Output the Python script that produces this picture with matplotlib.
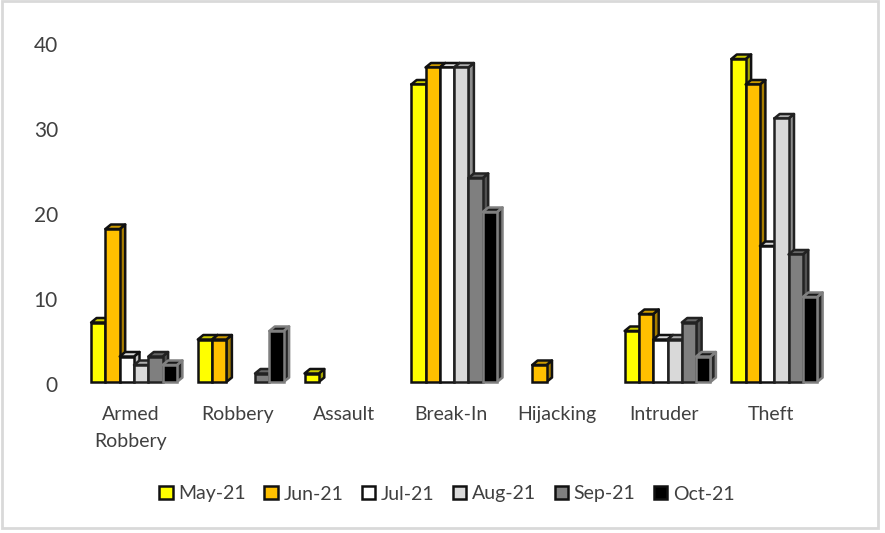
import matplotlib.pyplot as plt
from matplotlib.patches import Polygon, Rectangle

plt.rcParams['font.family'] = ['Lato', 'DejaVu Sans']

categories = ['Armed\nRobbery', 'Robbery', 'Assault', 'Break-In', 'Hijacking', 'Intruder', 'Theft']
months = ['May-21', 'Jun-21', 'Jul-21', 'Aug-21', 'Sep-21', 'Oct-21']

may_21 = [7, 5, 1, 35, 0, 6, 38]
jun_21 = [18, 5, 0, 37, 2, 8, 35]
jul_21 = [3, 0, 0, 37, 0, 5, 16]
aug_21 = [2, 0, 0, 37, 0, 5, 31]
sep_21 = [3, 1, 0, 24, 0, 7, 15]
oct_21 = [2, 6, 0, 20, 0, 3, 10]
series = [may_21, jun_21, jul_21, aug_21, sep_21, oct_21]

front_colors = ['#ffff00', '#ffc000', '#ffffff', '#d9d9d9', '#7f7f7f', '#000000']
top_colors = ['#cccc00', '#cc9a00', '#d9d9d9', '#aeaeae', '#666666', '#1a1a1a']
side_colors = ['#a6a600', '#a67c00', '#bfbfbf', '#8d8d8d', '#525252', '#262626']
edge_colors = ['#111111', '#111111', '#111111', '#222222', '#222222', '#808080']
text_color = '#404040'

W, H = 885, 533
fig = plt.figure(figsize=(W / 100, H / 100), dpi=100)
ax = fig.add_axes([0, 0, 1, 1])

# 1 unit on x = one group (106.7 px), y units are the values (8.5 px each)
px_x = 106.7
px_y = 8.5
ax.set_xlim(-134 / px_x, (W - 134) / px_x)
ax.set_ylim(-(H - 382) / px_y, 382 / px_y)
ax.axis('off')

bar_w = 14.3 / px_x
dx = 5.5 / px_x
dy = 4.5 / px_y

for s, values in enumerate(series):
    for i, v in enumerate(values):
        if v == 0:
            continue
        left = i + (s - 3) * bar_w
        right = left + bar_w
        kw = dict(edgecolor=edge_colors[s], linewidth=1.8, joinstyle='round', zorder=3 + s)
        ax.add_patch(Polygon([(right, 0), (right + dx, dy), (right + dx, v + dy), (right, v)],
                             facecolor=side_colors[s], **kw))
        ax.add_patch(Polygon([(left, v), (left + dx, v + dy), (right + dx, v + dy), (right, v)],
                             facecolor=top_colors[s], **kw))
        ax.bar(left, v, bar_w, align='edge', color=front_colors[s], edgecolor=edge_colors[s],
               linewidth=1.8, zorder=3 + s)

for i, name in enumerate(categories):
    ax.text(i - 3.5 / px_x, -(406 - 382) / px_y, name, ha='center', va='top', fontsize=14,
            color=text_color, linespacing=1.7)

for tick in [0, 10, 20, 30, 40]:
    ax.text(-76 / px_x, tick - 4.5 / px_y, str(tick), ha='right', va='center', fontsize=15, color=text_color)

# legend
handles = [Rectangle((0, 0), 1, 1, facecolor=front_colors[s], edgecolor='#111111', linewidth=1.8)
           for s in range(6)]
ax.legend(handles, months, ncol=6, loc='center', bbox_to_anchor=(447 / W, 1 - 494 / H),
          bbox_transform=fig.transFigure, frameon=False, fontsize=14, labelcolor=text_color,
          handlelength=0.68, handleheight=0.68, handletextpad=0.3, columnspacing=0.95)

# outer frame
fig.add_artist(Rectangle((2 / W, 1 - 528 / H), 876 / W, 527 / H, transform=fig.transFigure,
                         facecolor='none', edgecolor='#d9d9d9', linewidth=2))

fig.savefig('out.png', dpi=100)
